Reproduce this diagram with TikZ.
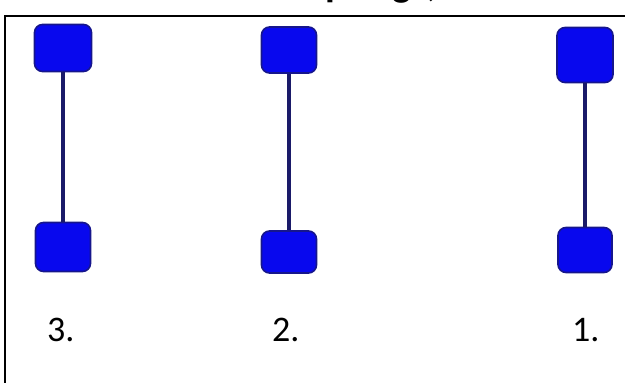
\documentclass[tikz,border=0pt]{standalone}
\usepackage{fontspec}
\setmainfont{Carlito}
\usepackage{tikz}
\usetikzlibrary{positioning}
\definecolor{padblue}{RGB}{8,8,238}
\definecolor{padedge}{RGB}{22,22,140}
\definecolor{barnavy}{RGB}{26,26,105}

\begin{document}
\begin{tikzpicture}[x=1pt, y=-1pt,
  pad/.style={draw=padedge, fill=padblue, line width=1.6pt,
    rectangle, rounded corners=8pt, minimum width=56pt, minimum height=47pt, inner sep=0pt},
  bar/.style={draw=barnavy, line width=4.5pt},
  lbl/.style={font=\fontsize{36}{40}\selectfont, anchor=base west, inner sep=0pt},
  ttl/.style={font=\bfseries\fontsize{40}{44}\selectfont, anchor=base west, inner sep=0pt}]

\useasboundingbox (0,0) rectangle (625,383);

% --- frame and clipped heading ---
\begin{scope}
  \clip (0,0) rectangle (625,383);
  \draw[line width=1.8pt] (5,400) -- (5,16) -- (640,16);
  \node[ttl] (heading) at (205,-3.5) {Three springs,};
\end{scope}

% --- pads ---
\node[pad, minimum width=57pt] (top3) at (63,48) {};
\node[pad, minimum width=55pt, minimum height=49pt] (bot3) at (63,247) {};
\node[pad, minimum width=55pt, minimum height=46pt] (top2) at (289,50) {};
\node[pad, minimum width=55pt, minimum height=42pt] (bot2) at (289,252) {};
\node[pad, minimum height=55pt] (top1) at (585,55) {};
\node[pad, minimum width=54pt, minimum height=45pt] (bot1) at (585,250) {};

% --- bars ---
\draw[bar] (top3.south) -- (bot3.north);
\draw[bar] (top2.south) -- (bot2.north);
\draw[bar] (top1.south) -- (bot1.north);

% --- labels ---
\node[lbl] (lbl3) at (47,341) {3.};
\node[lbl] (lbl2) at (272,341) {2.};
\node[lbl] (lbl1) at (572,341) {1.};
\end{tikzpicture}
\end{document}
